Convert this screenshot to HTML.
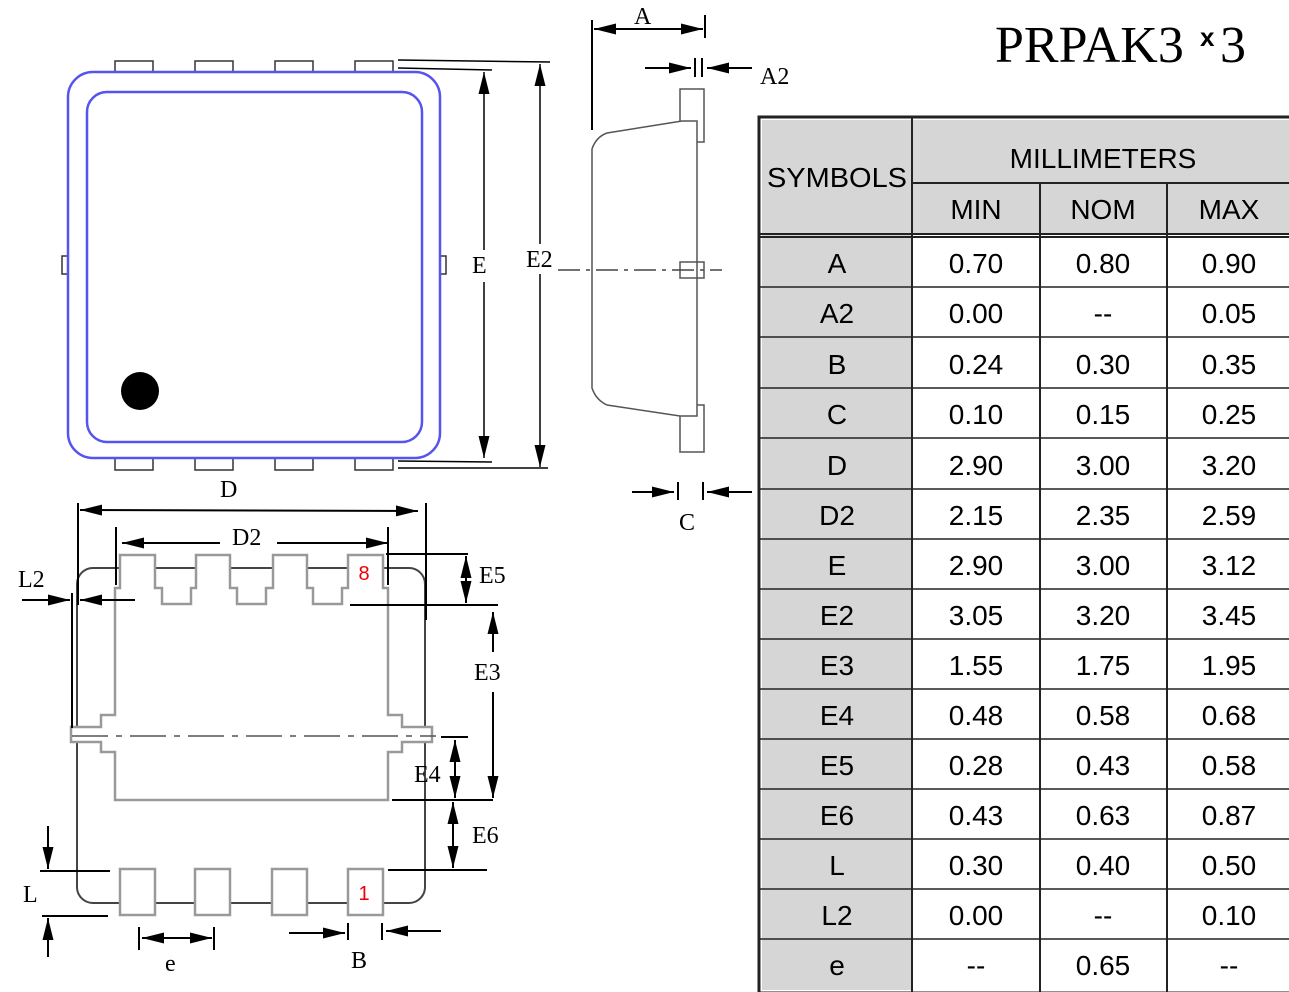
<!DOCTYPE html>
<html><head><meta charset="utf-8"><style>
html,body{margin:0;padding:0;background:#fff;}
svg{display:block;}
</style></head><body>
<svg width="1289" height="992" viewBox="0 0 1289 992" xmlns="http://www.w3.org/2000/svg" font-family="Liberation Serif, serif">
<defs>
<marker id="ar" viewBox="0 0 10 10" refX="10" refY="5" markerWidth="22" markerHeight="11" markerUnits="userSpaceOnUse" orient="auto-start-reverse" preserveAspectRatio="none"><path d="M0,0 L10,5 L0,10 z" fill="#000"/></marker>
</defs>

<!-- Title -->
<text x="995" y="62" font-size="52">PRPAK3</text>
<text x="1200" y="46" font-size="26" font-weight="bold" font-family="Liberation Sans, sans-serif">x</text>
<text x="1220" y="62" font-size="52">3</text>

<!-- Top view -->
<g fill="#fff" stroke="#333" stroke-width="1.5">
<rect x="115" y="61" width="38" height="12"/><rect x="195" y="61" width="38" height="12"/><rect x="275" y="61" width="38" height="12"/><rect x="355" y="61" width="38" height="12"/>
<rect x="115" y="457" width="38" height="13"/><rect x="195" y="457" width="38" height="13"/><rect x="275" y="457" width="38" height="13"/><rect x="355" y="457" width="38" height="13"/>
<rect x="62" y="256" width="7" height="18"/><rect x="439" y="256" width="7" height="18"/>
</g>
<rect x="68" y="72" width="372" height="386" rx="25" fill="#fff" stroke="#5555ee" stroke-width="2.5"/>
<rect x="87" y="92" width="335" height="350" rx="20" fill="none" stroke="#5555ee" stroke-width="2.5"/>
<circle cx="140" cy="391" r="19" fill="#000"/>
<g stroke="#000" stroke-width="1.5">
<line x1="398" y1="60" x2="550" y2="62"/>
<line x1="398" y1="68" x2="492" y2="70"/>
<line x1="398" y1="461" x2="492" y2="462"/>
<line x1="398" y1="468" x2="548" y2="468"/>
<line x1="484" y1="72" x2="484" y2="250" marker-start="url(#ar)"/>
<line x1="484" y1="282" x2="484" y2="458" marker-end="url(#ar)"/>
<line x1="540" y1="64" x2="540" y2="244" marker-start="url(#ar)"/>
<line x1="540" y1="274" x2="540" y2="467" marker-end="url(#ar)"/>
</g>
<text x="472" y="273" font-size="24">E</text>
<text x="526" y="267" font-size="24">E2</text>

<!-- Side view -->
<g fill="#fff" stroke="#555" stroke-width="1.5">
<rect x="680" y="89" width="24" height="53"/>
<rect x="680" y="405" width="24" height="47"/>
<path d="M592,149 Q596,137 607,133 L682,121 L697,121 L697,416 L680,416 L607,405 Q596,400 592,388 Z"/>
<rect x="680" y="262" width="24" height="16" fill="none"/>
</g>
<line x1="558" y1="270" x2="722" y2="270" stroke="#444" stroke-width="1.5" stroke-dasharray="22,6,4,6"/>
<g stroke="#000" stroke-width="2">
<line x1="592" y1="20" x2="592" y2="130"/>
<line x1="705" y1="15" x2="705" y2="38"/>
<line x1="594" y1="29" x2="703" y2="29" marker-start="url(#ar)" marker-end="url(#ar)"/>
<line x1="695" y1="58" x2="695" y2="77"/><line x1="702" y1="58" x2="702" y2="77"/>
<line x1="645" y1="68" x2="691" y2="68" marker-end="url(#ar)"/>
<line x1="752" y1="68" x2="707" y2="68" marker-end="url(#ar)"/>
<line x1="678" y1="482" x2="678" y2="500"/><line x1="703" y1="482" x2="703" y2="500"/>
<line x1="632" y1="492" x2="674" y2="492" marker-end="url(#ar)"/>
<line x1="752" y1="492" x2="707" y2="492" marker-end="url(#ar)"/>
</g>
<text x="634" y="24" font-size="24">A</text>
<text x="760" y="84" font-size="24">A2</text>
<text x="679" y="530" font-size="24">C</text>

<!-- Bottom view -->
<rect x="77" y="568" width="348" height="335" rx="16" fill="#fff" stroke="#444" stroke-width="2"/>
<g fill="#fff" stroke="#999" stroke-width="2.5">
<path d="M120,555 L155,555 L155,588 L162,588 L162,604 L191,604 L191,588 L196,588 L196,555 L230,555 L230,588 L237,588 L237,604 L266,604 L266,588 L273,588 L273,555 L307,555 L307,588 L313,588 L313,604 L342,604 L342,588 L348,588 L348,555 L383,555 L383,588 L388,588 L388,715 L402,715 L402,727 L432,727 L432,742 L402,742 L402,752 L388,752 L388,800 L115,800 L115,752 L101,752 L101,742 L71,742 L71,727 L101,727 L101,715 L115,715 L115,588 L120,588 Z"/>
<rect x="120" y="869" width="35" height="46"/><rect x="195" y="869" width="35" height="46"/><rect x="272" y="869" width="35" height="46"/><rect x="348" y="869" width="35" height="46"/>
</g>
<line x1="72" y1="736" x2="436" y2="736" stroke="#555" stroke-width="1.5" stroke-dasharray="36,8,6,8"/>
<text x="364" y="580" font-size="20" fill="#e00" text-anchor="middle" font-family="Liberation Sans, sans-serif">8</text>
<text x="364" y="900" font-size="20" fill="#e00" text-anchor="middle" font-family="Liberation Sans, sans-serif">1</text>
<g stroke="#000" stroke-width="2">
<line x1="78" y1="503" x2="78" y2="605"/>
<line x1="426" y1="503" x2="426" y2="620"/>
<line x1="80" y1="510" x2="418" y2="511" marker-start="url(#ar)" marker-end="url(#ar)"/>
<line x1="116" y1="527" x2="116" y2="585"/>
<line x1="388" y1="527" x2="388" y2="585"/>
<line x1="122" y1="543" x2="220" y2="543" marker-start="url(#ar)"/>
<line x1="277" y1="543" x2="388" y2="543" marker-end="url(#ar)"/>
<line x1="72" y1="593" x2="72" y2="728"/>
<line x1="22" y1="600" x2="70" y2="600" marker-end="url(#ar)"/>
<line x1="135" y1="600" x2="80" y2="600" marker-end="url(#ar)"/>
<line x1="386" y1="554" x2="468" y2="554"/>
<line x1="350" y1="605" x2="498" y2="605"/>
<line x1="466" y1="556" x2="466" y2="603" marker-start="url(#ar)" marker-end="url(#ar)"/>
<line x1="493" y1="612" x2="493" y2="652" marker-start="url(#ar)"/>
<line x1="493" y1="692" x2="493" y2="798" marker-end="url(#ar)"/>
<line x1="392" y1="800" x2="493" y2="800"/>
<line x1="441" y1="737" x2="468" y2="737"/>
<line x1="455" y1="740" x2="455" y2="798" marker-start="url(#ar)" marker-end="url(#ar)"/>
<line x1="453" y1="802" x2="453" y2="868" marker-start="url(#ar)" marker-end="url(#ar)"/>
<line x1="388" y1="870" x2="487" y2="870"/>
<line x1="40" y1="871" x2="110" y2="871"/>
<line x1="42" y1="916" x2="108" y2="916"/>
<line x1="48" y1="826" x2="48" y2="869" marker-end="url(#ar)"/>
<line x1="48" y1="957" x2="48" y2="918" marker-end="url(#ar)"/>
<line x1="139" y1="927" x2="139" y2="950"/><line x1="214" y1="927" x2="214" y2="950"/>
<line x1="142" y1="938" x2="212" y2="938" marker-start="url(#ar)" marker-end="url(#ar)"/>
<line x1="348" y1="923" x2="348" y2="940"/><line x1="382" y1="923" x2="382" y2="940"/>
<line x1="289" y1="933" x2="345" y2="933" marker-end="url(#ar)"/>
<line x1="441" y1="931" x2="386" y2="931" marker-end="url(#ar)"/>
</g>
<text x="220" y="497" font-size="24">D</text>
<text x="232" y="545" font-size="24">D2</text>
<text x="18" y="587" font-size="24">L2</text>
<text x="479" y="583" font-size="24">E5</text>
<text x="474" y="680" font-size="24">E3</text>
<text x="414" y="782" font-size="24">E4</text>
<text x="472" y="843" font-size="24">E6</text>
<text x="23" y="902" font-size="24">L</text>
<text x="165" y="971" font-size="24">e</text>
<text x="351" y="968" font-size="24">B</text>

<!-- Table -->
<g font-family="Liberation Sans, sans-serif" font-size="28" text-anchor="middle" fill="#000">
<rect x="759" y="117" width="532" height="876" fill="#fff" stroke="#222" stroke-width="3"/>
<rect x="762" y="120" width="149" height="870" fill="#d6d6d6"/>
<rect x="913" y="120" width="376" height="114" fill="#d6d6d6"/>
<g stroke="#222" stroke-width="2">
<line x1="912" y1="118" x2="912" y2="992"/>
<line x1="913" y1="183" x2="1289" y2="183"/>
<line x1="1040" y1="183" x2="1040" y2="992"/>
<line x1="1167" y1="183" x2="1167" y2="992"/>
<line x1="760" y1="234" x2="1289" y2="234"/>
<line x1="760" y1="237" x2="1289" y2="237"/>
</g>
<text x="837" y="187" textLength="140" lengthAdjust="spacingAndGlyphs">SYMBOLS</text>
<text x="1103" y="168">MILLIMETERS</text>
<text x="976" y="219">MIN</text>
<text x="1103" y="219">NOM</text>
<text x="1229" y="219">MAX</text>
<g stroke="#222" stroke-width="1.5">
<line x1="760" y1="287" x2="1289" y2="287"/><line x1="760" y1="337" x2="1289" y2="337"/>
<line x1="760" y1="388" x2="1289" y2="388"/><line x1="760" y1="438" x2="1289" y2="438"/>
<line x1="760" y1="489" x2="1289" y2="489"/><line x1="760" y1="539" x2="1289" y2="539"/>
<line x1="760" y1="589" x2="1289" y2="589"/><line x1="760" y1="639" x2="1289" y2="639"/>
<line x1="760" y1="689" x2="1289" y2="689"/><line x1="760" y1="739" x2="1289" y2="739"/>
<line x1="760" y1="789" x2="1289" y2="789"/><line x1="760" y1="839" x2="1289" y2="839"/>
<line x1="760" y1="889" x2="1289" y2="889"/><line x1="760" y1="939" x2="1289" y2="939"/>
</g>
<text x="837" y="273">A</text><text x="976" y="273">0.70</text><text x="1103" y="273">0.80</text><text x="1229" y="273">0.90</text>
<text x="837" y="323">A2</text><text x="976" y="323">0.00</text><text x="1103" y="323">--</text><text x="1229" y="323">0.05</text>
<text x="837" y="374">B</text><text x="976" y="374">0.24</text><text x="1103" y="374">0.30</text><text x="1229" y="374">0.35</text>
<text x="837" y="424">C</text><text x="976" y="424">0.10</text><text x="1103" y="424">0.15</text><text x="1229" y="424">0.25</text>
<text x="837" y="475">D</text><text x="976" y="475">2.90</text><text x="1103" y="475">3.00</text><text x="1229" y="475">3.20</text>
<text x="837" y="525">D2</text><text x="976" y="525">2.15</text><text x="1103" y="525">2.35</text><text x="1229" y="525">2.59</text>
<text x="837" y="575">E</text><text x="976" y="575">2.90</text><text x="1103" y="575">3.00</text><text x="1229" y="575">3.12</text>
<text x="837" y="625">E2</text><text x="976" y="625">3.05</text><text x="1103" y="625">3.20</text><text x="1229" y="625">3.45</text>
<text x="837" y="675">E3</text><text x="976" y="675">1.55</text><text x="1103" y="675">1.75</text><text x="1229" y="675">1.95</text>
<text x="837" y="725">E4</text><text x="976" y="725">0.48</text><text x="1103" y="725">0.58</text><text x="1229" y="725">0.68</text>
<text x="837" y="775">E5</text><text x="976" y="775">0.28</text><text x="1103" y="775">0.43</text><text x="1229" y="775">0.58</text>
<text x="837" y="825">E6</text><text x="976" y="825">0.43</text><text x="1103" y="825">0.63</text><text x="1229" y="825">0.87</text>
<text x="837" y="875">L</text><text x="976" y="875">0.30</text><text x="1103" y="875">0.40</text><text x="1229" y="875">0.50</text>
<text x="837" y="925">L2</text><text x="976" y="925">0.00</text><text x="1103" y="925">--</text><text x="1229" y="925">0.10</text>
<text x="837" y="975">e</text><text x="976" y="975">--</text><text x="1103" y="975">0.65</text><text x="1229" y="975">--</text>
</g>
</svg>
</body></html>
